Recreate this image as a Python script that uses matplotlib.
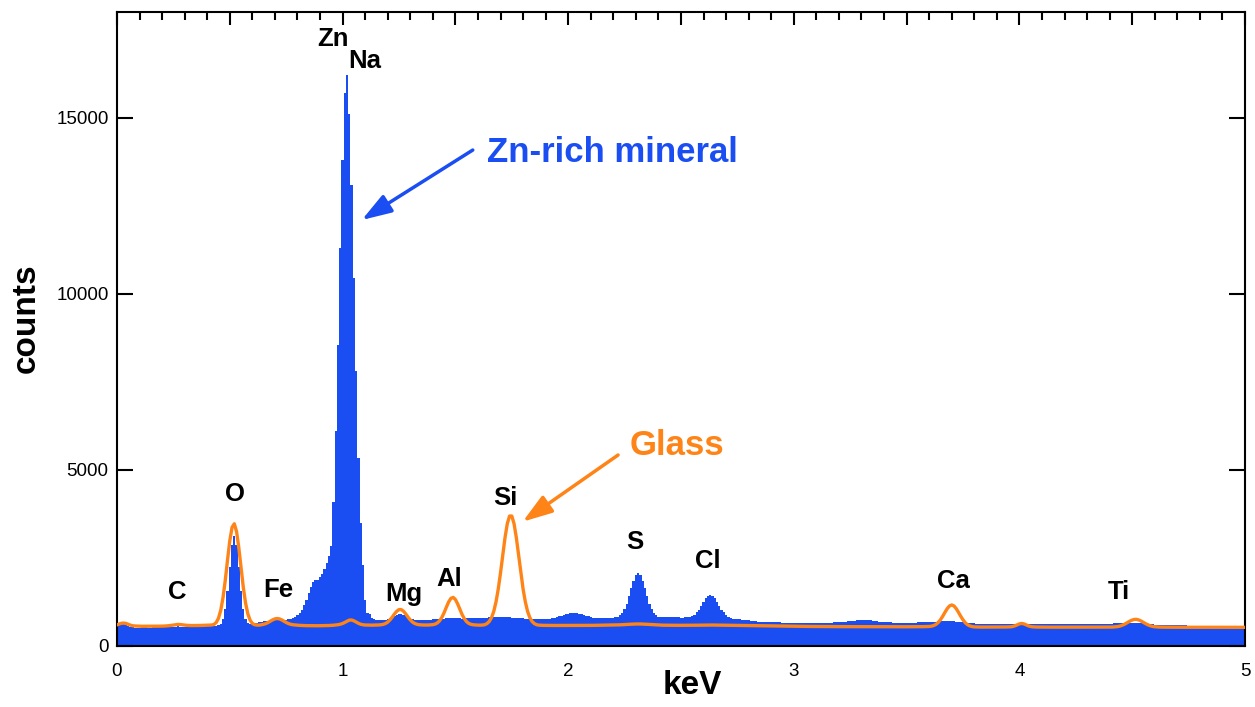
#!/usr/bin/env python3
# coding: utf-8

"""EDS spectra: Zn-rich mineral (bars) and glass (line)."""

import numpy as np
import matplotlib
matplotlib.use("Agg")
import matplotlib.pyplot as plt
from matplotlib.ticker import MultipleLocator, FuncFormatter

plt.rcParams["font.family"] = ["Liberation Sans", "DejaVu Sans"]

# NOTE: canales de 10 eV, de 0 a 5 keV (501 canales).
channel_kev = 0.01

mineral_0 = [
    620, 640, 650, 635, 600, 565, 540, 530, 525, 525,
    525, 528, 530, 528, 525, 525, 528, 530, 530, 528,
    530, 532, 535, 538, 540, 545, 550, 555, 552, 545,
    540, 538, 538, 540, 542, 545, 548, 550, 555, 560,
    565, 570, 572, 575, 580, 590, 622, 753, 1048, 1567,
    2248, 2860, 3110, 2860, 2248, 1567, 1048, 753, 640, 620,
    625, 640, 660, 680, 695, 705, 710, 715, 720, 725,
    730, 735, 738, 740, 742, 748, 760, 775, 800, 830,
    870, 930, 1020, 1150, 1320, 1500, 1680, 1820, 1880, 1870,
    1950, 2050, 2200, 2350, 2550, 2850, 4100, 6100, 8550, 11300,
]
mineral_1 = [
    13800, 15700, 16200, 15100, 13100, 10450, 7800, 5350, 3500, 2300,
    1300, 950, 900, 800, 760, 745, 740, 738, 743, 752,
    768, 793, 826, 862, 894, 913, 913, 894, 862, 826,
    793, 768, 752, 745, 740, 740, 742, 745, 748, 750,
    755, 760, 765, 770, 775, 780, 785, 790, 790, 790,
    788, 785, 782, 780, 780, 782, 785, 790, 795, 800,
    800, 800, 802, 805, 808, 810, 810, 812, 815, 815,
    815, 815, 812, 810, 810, 808, 805, 800, 795, 790,
    785, 780, 775, 772, 770, 768, 765, 765, 762, 760,
    765, 770, 780, 790, 805, 820, 840, 860, 880, 900,
]
mineral_2 = [
    915, 925, 930, 930, 928, 920, 905, 885, 860, 840,
    820, 805, 795, 790, 788, 786, 785, 786, 790, 800,
    806, 813, 830, 867, 933, 1042, 1201, 1407, 1637, 1852,
    2008, 2065, 2008, 1852, 1637, 1407, 1201, 1042, 933, 867,
    830, 815, 810, 810, 812, 812, 815, 815, 812, 810,
    808, 806, 810, 816, 829, 852, 892, 952, 1036, 1139,
    1251, 1351, 1422, 1448, 1422, 1351, 1251, 1139, 1036, 952,
    880, 835, 800, 780, 770, 762, 755, 748, 742, 735,
    725, 715, 705, 698, 692, 688, 685, 682, 680, 678,
    676, 674, 672, 670, 668, 667, 666, 665, 664, 662,
]
mineral_3 = [
    660, 660, 658, 658, 656, 656, 655, 655, 654, 654,
    654, 655, 656, 658, 660, 662, 664, 666, 668, 670,
    675, 680, 685, 690, 698, 705, 712, 720, 728, 735,
    738, 740, 740, 738, 732, 722, 710, 698, 688, 680,
    675, 672, 670, 668, 667, 666, 665, 664, 664, 663,
    663, 663, 664, 665, 666, 668, 670, 672, 675, 678,
    682, 686, 690, 694, 697, 700, 702, 703, 703, 702,
    700, 697, 693, 688, 682, 675, 668, 660, 652, 645,
    640, 636, 633, 630, 628, 627, 626, 626, 626, 626,
    626, 626, 627, 627, 628, 628, 629, 630, 630, 630,
]
mineral_4 = [
    632, 633, 633, 632, 631, 630, 629, 628, 627, 626,
    625, 624, 623, 622, 621, 620, 620, 619, 618, 618,
    617, 616, 616, 615, 615, 614, 614, 613, 613, 612,
    612, 612, 612, 613, 614, 615, 617, 620, 624, 628,
    633, 638, 643, 648, 652, 656, 659, 661, 662, 662,
    661, 659, 656, 652, 647, 641, 635, 628, 621, 614,
    608, 603, 598, 595, 592, 590, 588, 587, 586, 585,
    585, 584, 584, 583, 583, 582, 582, 582, 581, 581,
    581, 580, 580, 580, 579, 579, 579, 578, 578, 578,
    578, 577, 577, 577, 576, 576, 576, 575, 575, 575, 575,
]

glass_0 = [
    600, 625, 645, 650, 640, 615, 590, 575, 568, 565,
    562, 560, 560, 560, 560, 560, 561, 562, 562, 563,
    564, 566, 570, 576, 585, 595, 605, 612, 610, 602,
    593, 586, 582, 580, 580, 581, 582, 583, 585, 586,
    588, 590, 596, 612, 669, 792, 1018, 1376, 1870, 2447,
    2990, 3370, 3470, 3247, 2785, 2211, 1658, 1216, 913, 732,
    639, 605, 595, 592, 603, 616, 637, 668, 705, 742,
    770, 780, 770, 742, 705, 668, 637, 616, 603, 596,
    590, 585, 582, 580, 578, 577, 576, 575, 575, 575,
    576, 577, 578, 580, 582, 585, 590, 596, 605, 618,
]
glass_1 = [
    640, 670, 705, 735, 738, 715, 680, 645, 618, 603,
    596, 594, 593, 592, 593, 595, 598, 603, 615, 638,
    678, 740, 820, 910, 987, 1034, 1034, 987, 910, 820,
    740, 678, 638, 615, 603, 598, 596, 595, 596, 600,
    606, 622, 655, 716, 813, 947, 1103, 1250, 1352, 1380,
    1320, 1195, 1039, 889, 770, 688, 639, 614, 602, 596,
    593, 592, 595, 605, 636, 696, 804, 982, 1252, 1619,
    2078, 2586, 3079, 3472, 3690, 3690, 3472, 3079, 2586, 2078,
    1619, 1252, 982, 804, 696, 636, 605, 592, 588, 586,
    585, 584, 584, 583, 583, 583, 583, 583, 584, 584,
]
glass_2 = [
    585, 585, 585, 585, 586, 586, 586, 586, 586, 586,
    586, 586, 587, 587, 588, 588, 589, 590, 591, 592,
    594, 596, 598, 601, 604, 608, 612, 616, 620, 623,
    625, 626, 625, 623, 620, 616, 612, 607, 603, 599,
    596, 593, 591, 590, 589, 588, 588, 587, 587, 587,
    587, 587, 587, 587, 588, 588, 589, 590, 591, 592,
    593, 594, 595, 595, 595, 594, 593, 592, 591, 590,
    589, 588, 587, 586, 585, 584, 583, 582, 581, 580,
    579, 578, 577, 576, 575, 574, 573, 572, 571, 570,
    569, 568, 567, 566, 565, 564, 563, 562, 561, 560,
]
glass_3 = [
    560, 559, 558, 558, 557, 556, 556, 555, 555, 554,
    554, 553, 553, 552, 552, 552, 551, 551, 551, 550,
    550, 550, 550, 550, 550, 550, 550, 551, 551, 552,
    552, 553, 553, 553, 552, 552, 551, 550, 550, 549,
    549, 548, 548, 547, 547, 547, 546, 546, 546, 546,
    546, 546, 546, 547, 547, 548, 548, 549, 550, 551,
    554, 563, 581, 613, 666, 744, 844, 956, 1061, 1137,
    1165, 1137, 1061, 956, 844, 744, 660, 605, 572, 552,
    543, 540, 538, 537, 537, 537, 537, 538, 538, 538,
    539, 540, 540, 540, 540, 541, 544, 553, 572, 601,
]
glass_4 = [
    628, 640, 628, 601, 572, 553, 544, 540, 538, 537,
    536, 536, 535, 535, 535, 535, 535, 535, 535, 535,
    535, 535, 535, 535, 535, 535, 535, 535, 536, 536,
    535, 535, 535, 535, 535, 535, 535, 535, 535, 536,
    536, 537, 541, 547, 557, 575, 600, 632, 670, 707,
    737, 755, 755, 737, 707, 670, 632, 600, 575, 557,
    547, 541, 537, 535, 534, 534, 533, 533, 533, 533,
    532, 532, 532, 532, 532, 531, 531, 531, 531, 531,
    531, 531, 530, 530, 530, 530, 530, 530, 530, 530,
    530, 530, 530, 530, 530, 530, 530, 530, 530, 530, 530,
]

# Etiquetas de elementos: (texto, keV, counts)
elements = [
    ("C", 0.266, 1530), ("O", 0.523, 4310), ("Fe", 0.714, 1590),
    ("Zn", 0.957, 17230), ("Na", 1.099, 16610), ("Mg", 1.272, 1480),
    ("Al", 1.472, 1900), ("Si", 1.720, 4200), ("S", 2.296, 2950),
    ("Cl", 2.620, 2410), ("Ca", 3.706, 1845), ("Ti", 4.441, 1530),
]

blue = "#1a4ef2"
orange = "#ff8418"

mineral = np.array(mineral_0 + mineral_1 + mineral_2 + mineral_3 + mineral_4)
glass = np.array(glass_0 + glass_1 + glass_2 + glass_3 + glass_4)
energy = np.arange(len(mineral)) * channel_kev

fig = plt.figure(figsize=(12.55, 7.07), dpi=100)
ax = fig.add_axes([117 / 1255, 61 / 707, 1128 / 1255, 634 / 707])

ax.bar(energy, mineral, width=channel_kev, color=blue, linewidth=0, zorder=1)
ax.plot(energy, glass, color=orange, lw=2.4, zorder=3, solid_joinstyle="round")

ax.set_xlim(0, 5)
ax.set_ylim(0, 18000)

ax.xaxis.set_major_locator(MultipleLocator(0.5))
ax.xaxis.set_minor_locator(MultipleLocator(0.1))
ax.xaxis.set_major_formatter(
    FuncFormatter(lambda v, p: "%d" % v if abs(v - round(v)) < 1e-6 else ""))
ax.yaxis.set_major_locator(MultipleLocator(5000))

ax.tick_params(axis="x", which="both", direction="in", top=True, bottom=False,
               labelbottom=True, width=1.5, labelsize=13.5, pad=12)
ax.tick_params(axis="x", which="major", length=9)
ax.tick_params(axis="x", which="minor", length=5.5)
ax.tick_params(axis="y", which="major", direction="in", left=True, right=True,
               length=11.5, width=1.5, labelsize=13.5, pad=6)
for s in ax.spines.values():
    s.set_linewidth(1.5)

for name, x, y in elements:
    ax.text(x, y, name, fontsize=18.5, fontweight="bold", ha="center",
            va="center", zorder=4)

ax.text(2.194, 14025, "Zn-rich mineral", color=blue, fontsize=25,
        fontweight="bold", ha="center", va="center")
ax.text(2.482, 5706, "Glass", color=orange, fontsize=25,
        fontweight="bold", ha="center", va="center")

ax.annotate("", xy=(1.085, 12094), xytext=(1.577, 14081),
            arrowprops=dict(arrowstyle="-|>,head_length=0.9,head_width=0.3",
                            color=blue, lw=2.5, mutation_scale=20,
                            shrinkA=0, shrinkB=0))
ax.annotate("", xy=(1.798, 3529), xytext=(2.221, 5422),
            arrowprops=dict(arrowstyle="-|>,head_length=0.9,head_width=0.3",
                            color=orange, lw=2.5, mutation_scale=20,
                            shrinkA=0, shrinkB=0))

ax.text(0.51, -0.063, "keV", transform=ax.transAxes, fontsize=24,
        fontweight="bold", ha="center", va="center")
ax.text(-0.0807, 0.517, "counts", transform=ax.transAxes, fontsize=24,
        fontweight="bold", ha="center", va="center", rotation=90)

fig.savefig("out.png", dpi=100)
